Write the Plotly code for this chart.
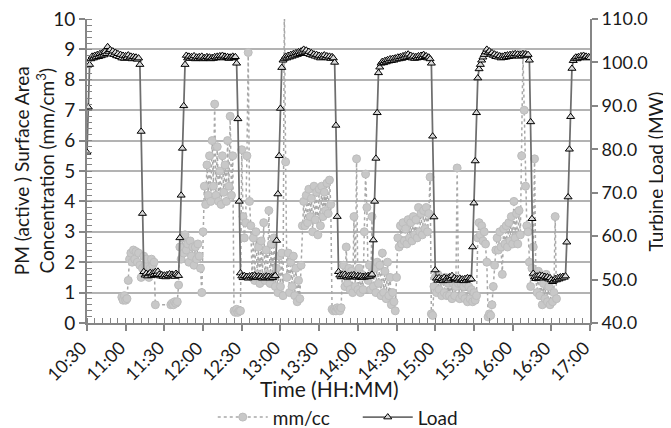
import plotly.graph_objects as go

LOAD_START_H = 10.5          # 10:30, one reading per minute
PM_START_H = 10.95           # 10:57, one reading per minute
X_RANGE = [10.5, 17.0]

# Turbine load (MW), one reading per minute from 10:30
load_mw = [
    79.3, 89.7, 99.5,
    100.8, 101.4, 101.0, 101.6, 101.2, 101.8, 101.3, 102.0, 101.5, 102.2,
    101.7, 102.5, 102.0, 103.6, 102.4, 102.9, 101.9, 102.6, 101.8, 102.3,
    101.5, 102.0, 101.3, 101.8, 101.0, 101.6, 100.9, 101.5, 101.1, 101.7,
    101.0, 101.4, 100.8, 101.3, 100.9, 101.2, 100.7, 101.0,
    99.5, 84.1, 65.2, 51.8,
    51.0, 51.4, 50.8, 51.3, 51.6, 50.9, 51.5, 51.1, 51.8, 51.3,
    51.9, 51.2, 50.8, 51.1, 50.7, 51.0, 50.6, 51.1, 50.9, 51.3,
    50.8, 51.2, 51.0, 50.7, 51.4, 51.1, 50.9,
    59.6, 69.4, 80.2, 90.0, 99.5,
    101.6, 101.0, 101.4, 100.9, 101.3, 101.0, 101.5, 100.8, 101.2, 100.9,
    101.3, 101.0, 101.4, 100.8, 101.1, 100.9, 101.3, 101.0, 101.2, 100.8,
    101.1, 100.9, 101.3, 101.0, 101.4, 101.1, 101.5, 101.2, 101.6, 101.0,
    101.4, 101.1, 101.3, 100.9, 101.2, 101.0, 101.4, 101.1, 101.3,
    99.8, 87.0, 68.0, 51.5,
    50.8, 50.4, 50.9, 50.5, 50.7, 50.3, 50.8, 50.5, 50.9, 50.6,
    51.0, 50.7, 50.4, 50.8, 50.5, 50.7, 50.3, 50.6, 50.4, 50.8,
    50.5, 50.7, 50.3, 50.6, 50.4, 50.8, 50.9,
    59.0, 69.7, 78.5, 89.4, 98.8, 100.5,
    100.9, 101.4, 101.0, 101.6, 101.2, 101.8, 101.4, 102.0, 101.6, 102.2,
    101.8, 102.4, 102.0, 102.6, 102.2, 103.0, 102.4, 102.8, 102.0, 102.5,
    101.8, 102.2, 101.6, 101.9, 101.4, 101.8, 101.2, 101.6, 101.0, 101.5,
    101.2, 101.7, 101.1, 101.5, 101.0, 101.4, 100.9, 101.3, 101.0,
    100.0, 85.5, 64.5, 51.8,
    51.0, 50.6, 51.1, 50.7, 51.2, 50.8, 50.5, 50.9, 50.6, 51.0,
    50.7, 51.1, 50.8, 50.5, 50.9, 50.6, 50.8, 50.4, 50.7, 50.5,
    50.8, 50.6, 50.9, 50.7, 51.0, 51.2,
    59.1, 68.0, 77.9, 88.4, 97.6, 98.9, 99.8,
    100.2, 99.9, 100.4, 100.1, 100.6, 100.3, 100.8, 100.4, 100.9, 100.5,
    101.0, 100.7, 101.2, 100.8, 101.3, 100.9, 101.5, 101.1, 101.7, 101.2,
    101.9, 101.3, 101.6, 101.0, 101.4, 100.9, 101.3, 101.0, 101.5, 101.1,
    101.6, 101.2, 101.8, 101.3, 101.5, 101.0, 101.2, 100.8,
    99.8, 83.0, 64.4, 52.2,
    50.3, 49.8, 50.4, 49.9, 50.2, 49.7, 50.5, 50.0, 50.3, 49.8,
    50.6, 50.1, 50.9, 50.2, 50.4, 49.9, 50.2, 49.8, 50.3, 49.9,
    50.1, 49.7, 50.2, 49.8, 50.4, 50.0, 50.3, 50.1,
    57.5, 67.6, 77.3, 88.4, 96.4, 98.5, 99.5, 100.5,
    101.2, 101.8, 102.4, 103.0, 102.3, 102.6, 101.9, 102.2, 101.6, 101.9,
    101.3, 101.7, 101.2, 101.5, 101.0, 101.4, 101.1, 101.6, 101.2, 101.7,
    101.3, 101.8, 101.4, 101.9, 101.5, 102.0, 101.6, 101.9, 101.4, 101.8,
    101.5, 102.0, 101.6, 101.9, 101.5, 101.8,
    100.5, 86.3, 64.0, 51.4,
    50.6, 50.2, 50.8, 50.4, 51.0, 50.5, 50.9, 50.3, 50.7, 50.4,
    50.6, 50.1, 50.4, 49.9, 49.5, 49.8, 50.2, 49.9, 50.4, 50.1,
    50.6, 50.3, 50.7, 50.5, 50.8,
    58.6, 69.0, 80.0, 87.5, 98.6,
    100.4, 100.9, 101.2, 100.8, 101.3, 101.0, 101.5, 101.1, 101.6, 101.2,
    101.4, 101.0, 101.3, 101.1,
]

# PM active surface area concentration (mm/cc), one reading per minute from 10:57
# (None = no reading; the dotted line bridges the gap)
pm_mmcc = [
    0.85, 0.75, 0.9, 0.75, 0.8, 1.4, 2.1,
    2.3, 2.0, 2.4, 2.1, 2.35, 2.0, 2.3, 1.9, 1.5, 1.8, 2.2, 1.9, 2.1, 1.6, 1.5, 1.8, 2.1, 1.9, 2.0,
    0.6, None, None, None, None, None, None, None, None, None, None, None, 0.6, 0.65, 0.6, 0.7, 0.65, 0.7,
    1.25, 2.5, 2.1, 2.8, 2.3, 2.9, 2.4, 2.6, 2.0, 2.7, 2.2, 2.5, 1.9, 2.5, 2.1, 2.6, 2.2, 1.8, 1.0,
    3.0, 4.5, 3.9, 5.2, 4.2, 5.5, 4.0, 6.0, 4.5, 7.2, 4.2, 5.8, 4.0, 5.0, 3.9, 5.5, 4.3, 5.2, 4.0, 6.0,
    4.5, 6.8, 4.2, 5.5,
    0.4, 0.35, 0.45, 0.35, 0.4, 0.4,
    5.7, 3.5, 2.8, 3.3, 5.5, 8.9, 4.0,
    3.2, 1.5, 2.8, 1.4, 3.0, 1.6, 2.5, 1.3, 2.7, 1.5, 3.3, 1.4, 2.4, 1.6, 3.7, 1.3, 2.6, 1.5, 2.8, 1.2,
    1.8, 1.0, 2.2, 1.2, 2.3, 0.9,
    10.5, 5.3,
    1.5, 2.3, 1.0, 2.0, 1.2, 2.2, 0.9, 1.8, 0.7, 1.4, 0.8, 1.9,
    3.2, 4.0, 3.2, 4.2, 3.3, 4.4, 3.5, 4.1, 3.0, 4.5, 3.4, 4.3, 2.9, 4.4, 3.2, 4.5, 3.5, 4.3, 3.7, 4.6,
    3.6, 4.7, 3.9,
    0.45, 0.4, 0.45, 0.4, 0.5, 0.45, 0.4, 0.5,
    1.6,
    1.9, 1.2, 2.5, 1.3, 1.8, 1.1, 1.7, 1.0, 3.5, 1.2, 5.4, 1.1, 1.8, 1.0, 1.6, 1.1, 3.0, 4.9, 3.8, 1.4,
    1.9, 1.1, 3.5, 1.2, 1.8, 1.0, 2.0, 1.3, 1.9, 0.9, 2.3, 1.0, 1.7, 0.8, 2.0, 0.9, 1.5, 0.6, 1.0, 0.7,
    0.4,
    1.5, 2.8,
    2.5, 3.2, 2.6, 3.3, 2.7, 3.1, 2.6, 3.4, 2.8, 3.3, 2.7, 3.5, 2.9, 3.4, 2.8, 3.8, 3.0, 3.6, 2.9, 3.7,
    3.1, 3.8, 3.0, 3.6,
    4.8,
    0.3, 0.25, 1.2,
    1.5, 1.0, 1.6, 1.1, 1.5, 0.9, 1.4, 1.0, 1.5, 0.9, 1.3, 0.9, 1.4, 0.8, 1.3, 0.9, 1.2, 5.1, 1.3, 0.8,
    1.3, 0.9, 1.2, 0.8, 1.3, 0.7, 1.2, 0.8, 1.1, 0.7, 1.0, 0.75, 0.9,
    2.8, 3.3, 2.9, 3.2, 2.7, 3.0, 2.6, 2.0,
    0.2, 0.3, 0.25,
    0.6, 1.2, 1.9, 2.4,
    2.8, 2.4, 3.0, 2.5, 1.6, 3.1, 2.6, 3.2, 2.5, 3.3, 2.7, 3.5, 2.6, 4.0, 2.8, 3.6, 2.6, 3.7, 2.9,
    5.5, 8.9, 7.0, 4.5, 3.2, 3.0, 2.0, 1.2, 1.8, 2.5, 5.4, 1.5,
    1.0, 1.7, 0.9, 1.5, 0.6, 1.3, 0.8, 1.6, 0.7, 1.2, 0.6, 1.4, 0.7, 1.0, 3.5, 0.8,
]

pm_ticks = list(range(0, 11))
load_ticks = [40, 50, 60, 70, 80, 90, 100, 110]
time_tick_vals = [10.5, 11.0, 11.5, 12.0, 12.5, 13.0, 13.5, 14.0, 14.5, 15.0, 15.5, 16.0, 16.5, 17.0]
time_tick_labels = ["10:30", "11:00", "11:30", "12:00", "12:30", "13:00", "13:30",
                    "14:00", "14:30", "15:00", "15:30", "16:00", "16:30", "17:00"]

load_time = [LOAD_START_H + i / 60 for i in range(len(load_mw))]
pm_time = [PM_START_H + i / 60 for i in range(len(pm_mmcc))]

FONT = "Lato"
AXIS_GREY = "#868686"
TXT = "#1a1a1a"

fig = go.Figure()
fig.add_trace(go.Scatter(
    x=pm_time, y=pm_mmcc, name="mm/cc", mode="lines+markers", connectgaps=True,
    line=dict(color="#a8a8a8", width=1.5, dash="dot"),
    marker=dict(symbol="circle", size=8, color="#c8c8c8", line=dict(color="#bdbdbd", width=1)),
    yaxis="y",
))
fig.add_trace(go.Scatter(
    x=load_time, y=load_mw, name="Load", mode="lines+markers",
    line=dict(color="#6e6e6e", width=1.75),
    marker=dict(symbol="triangle-up", size=7, color="#d9d9d9", line=dict(color="#000000", width=1)),
    yaxis="y2",
))

# rotated time labels, one per major tick, anchored at the tick position on the x axis
tick_label_annotations = [
    dict(text=lab, xref="x", yref="paper", x=val, y=-0.035, xshift=6,
         textangle=-45, showarrow=False, xanchor="right", yanchor="top",
         font=dict(size=18, family=FONT, color=TXT))
    for val, lab in zip(time_tick_vals, time_tick_labels)
]

fig.update_layout(
    width=663, height=420,
    margin=dict(l=79, r=81, t=11, b=105, autoexpand=False),
    paper_bgcolor="white", plot_bgcolor="white",
    font=dict(family=FONT, size=17, color=TXT),
    showlegend=True,
    legend=dict(orientation="h", x=0.25, xanchor="left", y=-0.31, yanchor="middle",
                font=dict(size=19), bgcolor="rgba(0,0,0,0)", itemwidth=50,
                entrywidth=80, entrywidthmode="pixels"),
    xaxis=dict(
        range=X_RANGE, automargin=False,
        tickmode="array", tickvals=time_tick_vals, ticktext=time_tick_labels,
        showticklabels=False,
        ticks="outside", ticklen=6, tickwidth=1.5, tickcolor=AXIS_GREY,
        showline=True, linecolor=AXIS_GREY, linewidth=2,
        showgrid=False, zeroline=False,
        minor=dict(tick0=10.5, dtick=0.1, ticks="inside", ticklen=5, tickwidth=1,
                   tickcolor=AXIS_GREY, showgrid=False),
    ),
    yaxis=dict(
        range=[0, 10], tickmode="array", tickvals=pm_ticks, automargin=False,
        ticklabeloverflow="allow",
        ticks="outside", ticklen=6, tickwidth=1.5, tickcolor=AXIS_GREY,
        showline=True, linecolor=AXIS_GREY, linewidth=2,
        showgrid=True, gridcolor="#b3b3b3", gridwidth=1.5, zeroline=False,
        minor=dict(dtick=0.2, ticks="inside", ticklen=5, tickwidth=1, tickcolor=AXIS_GREY, showgrid=False),
        tickfont=dict(size=19, family=FONT, color=TXT),
    ),
    yaxis2=dict(
        overlaying="y", side="right", range=[40, 110], tickmode="array", tickvals=load_ticks,
        tickformat=".1f", automargin=False, ticklabeloverflow="allow",
        ticks="outside", ticklen=6, tickwidth=1.5, tickcolor=AXIS_GREY,
        showline=True, linecolor=AXIS_GREY, linewidth=2,
        showgrid=False, zeroline=False,
        tickfont=dict(size=18, family=FONT, color=TXT),
    ),
    annotations=tick_label_annotations + [
        dict(text="PM (active ) Surface Area<br>Concentration (mm/cm<sup>3</sup>)",
             xref="paper", yref="paper", x=-0.105, y=0.5, textangle=-90, showarrow=False,
             font=dict(size=19, family=FONT, color=TXT), xanchor="center", yanchor="middle"),
        dict(text="Turbine Load (MW)", xref="paper", yref="paper", x=1.13, y=0.5,
             textangle=-90, showarrow=False, font=dict(size=19, family=FONT, color=TXT),
             xanchor="center", yanchor="middle"),
        dict(text="Time (HH:MM)", xref="paper", yref="paper", x=0.483, y=-0.215,
             showarrow=False, font=dict(size=21, family=FONT, color=TXT),
             xanchor="center", yanchor="middle"),
    ],
)

fig.write_html("out.html")
